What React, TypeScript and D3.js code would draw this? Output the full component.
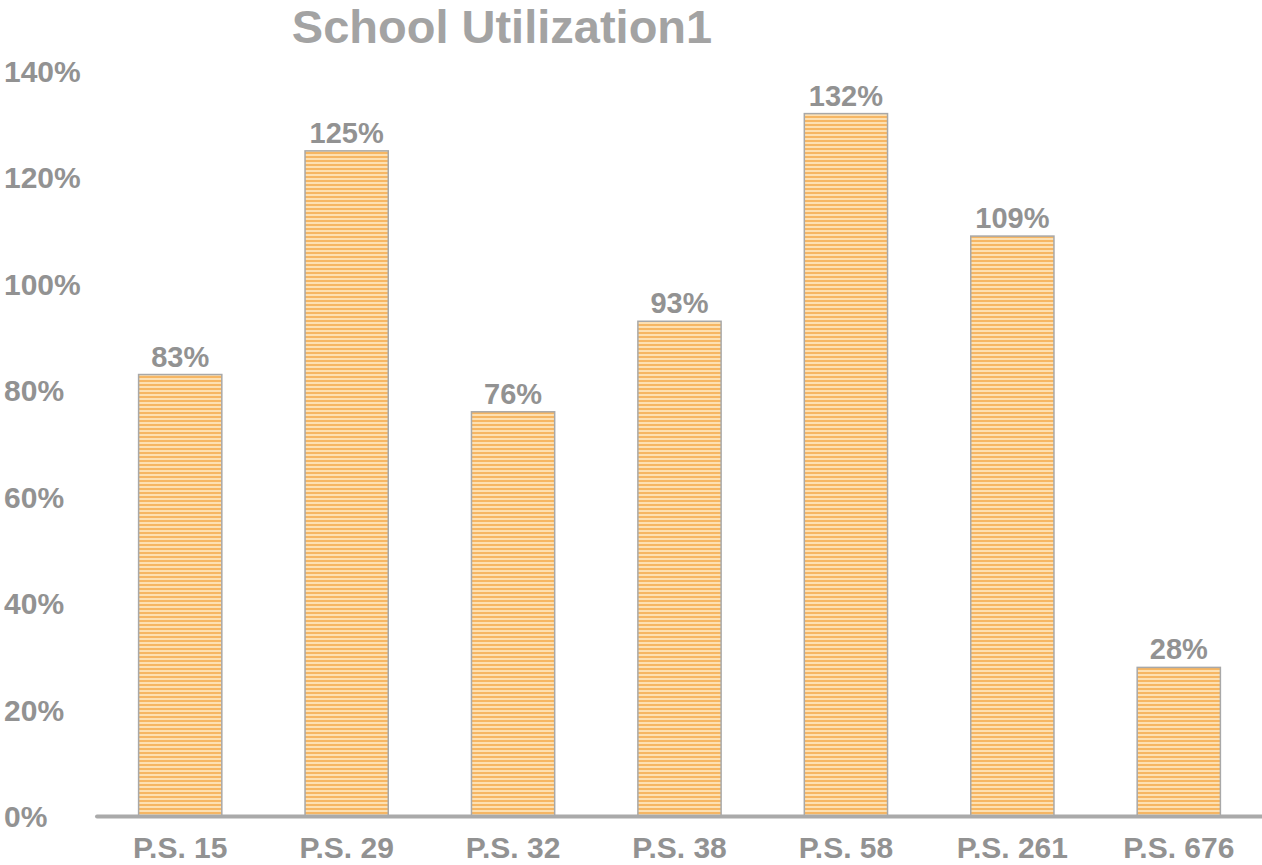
import React from 'react';
import * as d3 from 'd3';

const schools = ['P.S. 15', 'P.S. 29', 'P.S. 32', 'P.S. 38', 'P.S. 58', 'P.S. 261', 'P.S. 676'];
const utilization = [83, 125, 76, 93, 132, 109, 28];
const yTicks = [0, 20, 40, 60, 80, 100, 120, 140];

const width = 1262, height = 865;
const font = '"Liberation Sans", Arial, sans-serif';
const grey = '#929292';

const App = () => {
  const x = d3.scaleBand<string>()
    .domain(schools)
    .range([97, 1262])
    .paddingInner(0.5)
    .paddingOuter(0.25);

  const y = d3.scaleLinear()
    .domain([0, 140])
    .range([816.5, 71]);

  return (
    <svg width={width} height={height} style={{ position: 'absolute', left: 0, top: 0 }} fontFamily={font}>
      <defs>
        <pattern id="stripes" patternUnits="userSpaceOnUse" width={8} height={4}>
          <rect x={0} y={0} width={8} height={4} fill="#fde0b2" />
          <rect x={0} y={0} width={8} height={2} fill="#f6b663" />
        </pattern>
      </defs>

      <text x={502} y={43} textAnchor="middle" fontSize={47} fontWeight="bold" fill="#a3a3a3">
        School Utilization1
      </text>

      {/* y tick labels, left aligned */}
      {yTicks.map(t => (
        <text key={t} x={4} y={y(t)} dy="0.36em" fontSize={30} fontWeight="bold" fill={grey}>
          {t}%
        </text>
      ))}

      {schools.map((s, i) => (
        <g key={s}>
          <rect
            x={x(s)}
            y={y(utilization[i])}
            width={x.bandwidth()}
            height={y(0) - y(utilization[i])}
            fill="url(#stripes)"
            stroke="#a8a8a8"
            strokeWidth={1.5}
          />
          <text
            x={x(s)! + x.bandwidth() / 2}
            y={y(utilization[i]) - 8}
            textAnchor="middle"
            fontSize={29}
            fontWeight="bold"
            fill={grey}
          >
            {utilization[i]}%
          </text>
          <text
            x={x(s)! + x.bandwidth() / 2}
            y={858}
            textAnchor="middle"
            fontSize={30}
            fontWeight="bold"
            fill={grey}
          >
            {s}
          </text>
        </g>
      ))}

      <line x1={97} x2={1262} y1={y(0)} y2={y(0)} stroke="#aaaaaa" strokeWidth={4} strokeLinecap="round" />
    </svg>
  );
};

export default App;
